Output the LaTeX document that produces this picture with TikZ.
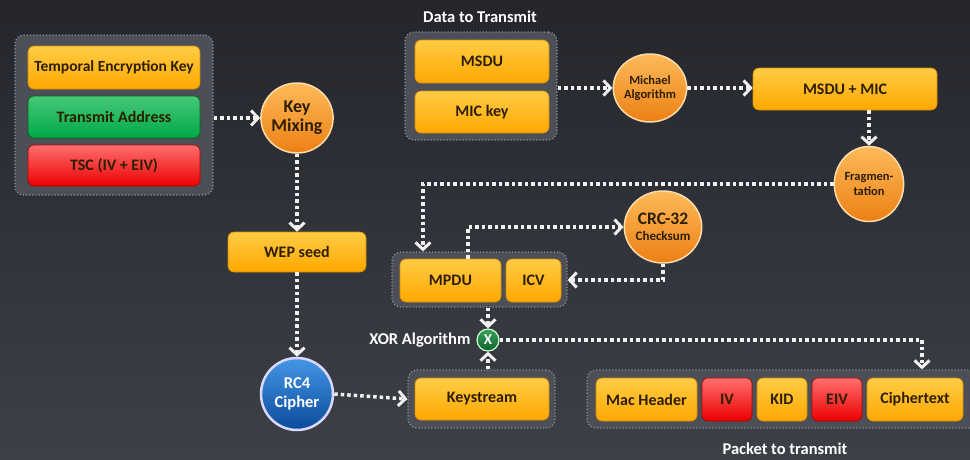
\documentclass[tikz,border=0pt]{standalone}
\usepackage{fontspec}
\setmainfont{Carlito}
\usetikzlibrary{arrows.meta,shapes.geometric}
\definecolor{bgtop}{RGB}{36,38,44}
\definecolor{bgbot}{RGB}{62,64,72}
\definecolor{ortop}{RGB}{255,204,70}
\definecolor{orbot}{RGB}{255,168,0}
\definecolor{ordraw}{RGB}{214,140,0}
\definecolor{rdtop}{RGB}{255,110,110}
\definecolor{rdbot}{RGB}{235,0,0}
\definecolor{grtop}{RGB}{70,200,120}
\definecolor{grbot}{RGB}{0,168,74}
\definecolor{txt}{RGB}{45,30,0}
\definecolor{grpfill}{RGB}{76,79,87}
\definecolor{grpdraw}{RGB}{140,143,150}
\definecolor{cotop}{RGB}{253,186,90}
\definecolor{cobot}{RGB}{236,128,20}
\definecolor{coedge}{RGB}{255,220,170}
\definecolor{bltop}{RGB}{70,150,230}
\definecolor{blbot}{RGB}{10,75,155}
\definecolor{xgtop}{RGB}{60,160,90}
\definecolor{xgbot}{RGB}{10,100,45}
\definecolor{flowc}{RGB}{240,240,240}
\tikzset{
  bx/.style={rounded corners=6pt, draw=ordraw, line width=0.6pt, top color=ortop, bottom color=orbot,
    font=\bfseries\fontsize{16}{18}\selectfont, text=txt, inner sep=0pt, minimum height=42pt},
  redbx/.style={bx, draw=red!70!black, top color=rdtop, bottom color=rdbot},
  grnbx/.style={bx, draw=green!40!black, top color=grtop, bottom color=grbot},
  grp/.style={rounded corners=9pt, fill=grpfill, draw=grpdraw, dotted, line width=1.2pt, inner sep=0pt},
  ocirc/.style={ellipse, top color=cotop, bottom color=cobot, draw=coedge, line width=1.5pt,
    text=txt, align=center, inner sep=0pt, font=\bfseries},
  bcirc/.style={circle, top color=bltop, bottom color=blbot, draw=white!85!blue, line width=2.5pt,
    text=white, align=center, inner sep=0pt, font=\bfseries\fontsize{16.5}{19}\selectfont},
  flow/.style={draw=flowc, line width=3.5pt, dash pattern=on 3.5pt off 3pt,
    -{Straight Barb[length=7pt,width=15pt,line width=3pt]}},
  lbl/.style={text=white, font=\bfseries\fontsize{16.5}{18}\selectfont},
}
\begin{document}
\begin{tikzpicture}[x=1pt,y=-1pt]
\useasboundingbox (0,0) rectangle (970,459);
\path[clip] (0,0) rectangle (970,459);
\shade[top color=bgtop, bottom color=bgbot] (0,0) rectangle (970,459);

% left key group
\node[grp, minimum width=198pt, minimum height=160pt] (g1) at (114,115) {};
\node[bx, minimum width=172pt, minimum height=43pt, font=\bfseries\fontsize{15.5}{18}\selectfont] (tek) at (114,67.5) {Temporal Encryption Key};
\node[grnbx, minimum width=172pt] (ta) at (114,117) {Transmit Address};
\node[redbx, minimum width=172pt, minimum height=41pt] (tsc) at (114,165.5) {TSC (IV + EIV)};

\node[ocirc, minimum width=70pt, minimum height=70pt, font=\bfseries\fontsize{18}{19}\selectfont] (km) at (297,118) {Key\\Mixing};
\node[bx, minimum width=138pt, minimum height=40pt] (wep) at (297,252) {WEP seed};
\node[bcirc, minimum size=72pt] (rc4) at (297,394) {RC4\\Cipher};

% data to transmit
\node[lbl] (dtt) at (480,17) {Data to Transmit};
\node[grp, minimum width=152pt, minimum height=108pt] (dg) at (481,86) {};
\node[bx, minimum width=134pt, minimum height=43pt] (msdu) at (482,61.5) {MSDU};
\node[bx, minimum width=134pt] (mic) at (482,112) {MIC key};

\node[ocirc, minimum width=66pt, minimum height=68pt, font=\bfseries\fontsize{12.5}{14}\selectfont] (mich) at (650,88) {Michael\\Algorithm};
\node[bx, minimum width=184pt] (mm) at (845,89) {MSDU + MIC};
\node[ocirc, minimum width=66pt, minimum height=75pt, font=\bfseries\fontsize{12.5}{15}\selectfont] (frag) at (869,184) {Fragmen-\\tation};

% MPDU group
\node[grp, minimum width=175pt, minimum height=55pt] (mpg) at (479.5,279.5) {};
\node[bx, minimum width=101pt, minimum height=43pt] (mpdu) at (450.5,280.5) {MPDU};
\node[bx, minimum width=55pt, minimum height=43pt] (icv) at (533.5,280.5) {ICV};

\node[ocirc, minimum width=72pt, minimum height=72pt] (crc) at (663,227) {{\fontsize{17.5}{19}\selectfont CRC-32}\\[4pt]{\fontsize{13}{14}\selectfont Checksum}};

% XOR
\node[circle, top color=xgtop, bottom color=xgbot, draw=white!80!green, line width=1.2pt, minimum size=22pt, inner sep=0pt,
  text=white, font=\bfseries\fontsize{15}{15}\selectfont] (xor) at (488,340) {X};
\node[lbl, anchor=east] (xorl) at (474,340) {XOR Algorithm};

% keystream
\node[grp, minimum width=147pt, minimum height=58pt] (ksg) at (481.5,399) {};
\node[bx, minimum width=134pt, minimum height=42pt] (ks) at (482,399) {Keystream};

% packet
\node[grp, minimum width=400pt, minimum height=58pt] (pg) at (787,399) {};
\node[bx, minimum width=101pt, minimum height=43pt] (mac) at (646.5,399.5) {Mac Header};
\node[redbx, minimum width=50pt, minimum height=43pt] (iv) at (727,399.5) {IV};
\node[bx, minimum width=50pt, minimum height=43pt] (kid) at (782,399.5) {KID};
\node[redbx, minimum width=50pt, minimum height=43pt] (eiv) at (837,399.5) {EIV};
\node[bx, minimum width=96pt, minimum height=43pt] (ct) at (915,399.5) {Ciphertext};
\node[lbl] (ptt) at (785,449) {Packet to transmit};

% coordinates
\coordinate (c1) at (423,184);
\coordinate (c2) at (468,227);
\coordinate (c3) at (663,280);
\coordinate (c4) at (922,340);

% connectors
\draw[flow] (g1.east |- km.west) -- (km.west);
\draw[flow] (km.south) -- (wep.north);
\draw[flow] (wep.south) -- (rc4.north);
\draw[flow] (rc4.east) -- (ksg.west);
\draw[flow] (dg.east |- mich.west) -- (mich.west);
\draw[flow] (mich.east) -- (mm.west |- mich.east);
\draw[flow] (frag.north |- mm.south) -- (frag.north);
\draw[flow] (frag.west) -- (c1) -- (c1 |- mpg.north);
\draw[flow] (c2 |- mpdu.north) -- (c2) -- (crc.west);
\draw[flow] (crc.south) -- (c3) -- (mpg.east |- c3);
\draw[flow] (xor.north |- mpg.south) -- (xor.north);
\draw[flow] (xor.south |- ksg.north) -- (xor.south);
\draw[flow] (xor.east) -- (c4) -- (c4 |- pg.north);
\end{tikzpicture}
\end{document}
